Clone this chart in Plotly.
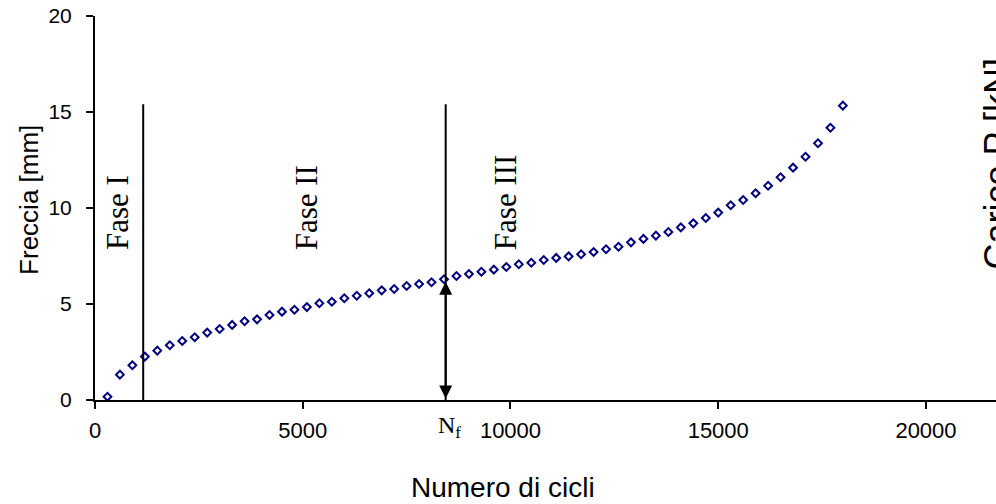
import plotly.graph_objects as go

# --- data ---
cycles = [300, 600, 900, 1200, 1500, 1800, 2100, 2400, 2700, 3000,
          3300, 3600, 3900, 4200, 4500, 4800, 5100, 5400, 5700, 6000,
          6300, 6600, 6900, 7200, 7500, 7800, 8100, 8400, 8700, 9000,
          9300, 9600, 9900, 10200, 10500, 10800, 11100, 11400, 11700, 12000,
          12300, 12600, 12900, 13200, 13500, 13800, 14100, 14400, 14700, 15000,
          15300, 15600, 15900, 16200, 16500, 16800, 17100, 17400, 17700, 18000]
freccia = [0.17, 1.32, 1.81, 2.26, 2.57, 2.85, 3.07, 3.27, 3.51, 3.70,
           3.91, 4.10, 4.20, 4.43, 4.60, 4.70, 4.84, 5.04, 5.12, 5.30,
           5.43, 5.56, 5.71, 5.78, 5.94, 6.04, 6.13, 6.29, 6.46, 6.56,
           6.68, 6.79, 6.93, 7.07, 7.15, 7.29, 7.40, 7.48, 7.59, 7.71,
           7.85, 7.98, 8.21, 8.39, 8.56, 8.75, 8.99, 9.20, 9.48, 9.76,
           10.14, 10.42, 10.77, 11.16, 11.60, 12.10, 12.67, 13.37, 14.18, 15.33]

phase_boundaries = [1160, 8440]   # end of Fase I, N_f
boundary_top = 15.4
nf_cycles = 8440
nf_freccia = 6.16
phase_labels = ["Fase I", "Fase II", "Fase III"]
phase_label_x = [537, 5095, 9868]
x_ticks = [0, 5000, 10000, 15000, 20000]
x_tick_text = ["0", "5000", "10000", "15000", "20000"]
y_ticks = [0, 5, 10, 15, 20]
y_tick_text = ["0", "5", "10", "15", "20"]

SANS = "Liberation Sans, Arial, sans-serif"
SERIF = "Liberation Serif, Times New Roman, serif"

fig = go.Figure()
fig.add_trace(go.Scatter(
    x=cycles, y=freccia, mode="markers",
    marker=dict(symbol="diamond-open", size=6, color="#000080",
                line=dict(width=2, color="#000080")),
    showlegend=False, cliponaxis=False,
))

for xb in phase_boundaries:
    fig.add_shape(type="line", xref="x", yref="y", x0=xb, x1=xb, y0=0, y1=boundary_top,
                  line=dict(color="black", width=2))

for lbl, lx in zip(phase_labels, phase_label_x):
    fig.add_annotation(x=lx, y=7.7, xref="x", yref="y", text=lbl, textangle=-90,
                       showarrow=False, xanchor="center", yanchor="bottom",
                       font=dict(family=SERIF, size=31, color="black"))

# double arrow at N_f
fig.add_annotation(x=nf_cycles, y=nf_freccia, ax=nf_cycles, ay=0,
                   xref="x", yref="y", axref="x", ayref="y", text="",
                   showarrow=True, arrowside="end+start",
                   arrowhead=2, startarrowhead=2, arrowsize=1.3, startarrowsize=1.3,
                   arrowwidth=2, arrowcolor="black")

fig.add_annotation(x=nf_cycles, y=-0.07, xref="x", yref="paper",
                   text="N<sub>f</sub>", showarrow=False, xanchor="left", xshift=-10,
                   yanchor="middle", font=dict(family=SERIF, size=24, color="black"))

# axis titles
fig.add_annotation(x=0.4528, y=-0.229, xref="paper", yref="paper", text="Numero di cicli",
                   showarrow=False, xanchor="center", yanchor="middle",
                   font=dict(family=SANS, size=28, color="black"))
fig.add_annotation(x=-0.0733, y=0.521, xref="paper", yref="paper", text="Freccia [mm]",
                   textangle=-90, showarrow=False, xanchor="center", yanchor="middle",
                   font=dict(family=SANS, size=26, color="black"))
fig.add_annotation(x=0.9767, y=0.6146, xref="paper", yref="paper", text="Carico P [kN]",
                   textangle=-90, showarrow=False, xanchor="left", yanchor="middle",
                   font=dict(family=SANS, size=36, color="black"))

fig.update_xaxes(range=[0, 21685], tickvals=x_ticks, ticktext=x_tick_text,
                 ticks="outside", ticklen=7,
                 tickwidth=2, tickcolor="black", showline=True, linewidth=2,
                 linecolor="black", showgrid=False, zeroline=False,
                 tickfont=dict(family=SANS, size=22, color="black"),
                 ticklabelstandoff=3)
fig.update_yaxes(range=[0, 20], tickvals=y_ticks, ticktext=y_tick_text,
                 ticks="outside", ticklen=7,
                 tickwidth=2, tickcolor="black", showline=True, linewidth=2,
                 linecolor="black", showgrid=False, zeroline=False,
                 tickfont=dict(family=SANS, size=21, color="black"),
                 ticklabelstandoff=10)

fig.update_layout(width=996, height=504, margin=dict(l=95, r=0, t=16, b=104),
                  plot_bgcolor="white", paper_bgcolor="white")

fig.write_html("out.html")
